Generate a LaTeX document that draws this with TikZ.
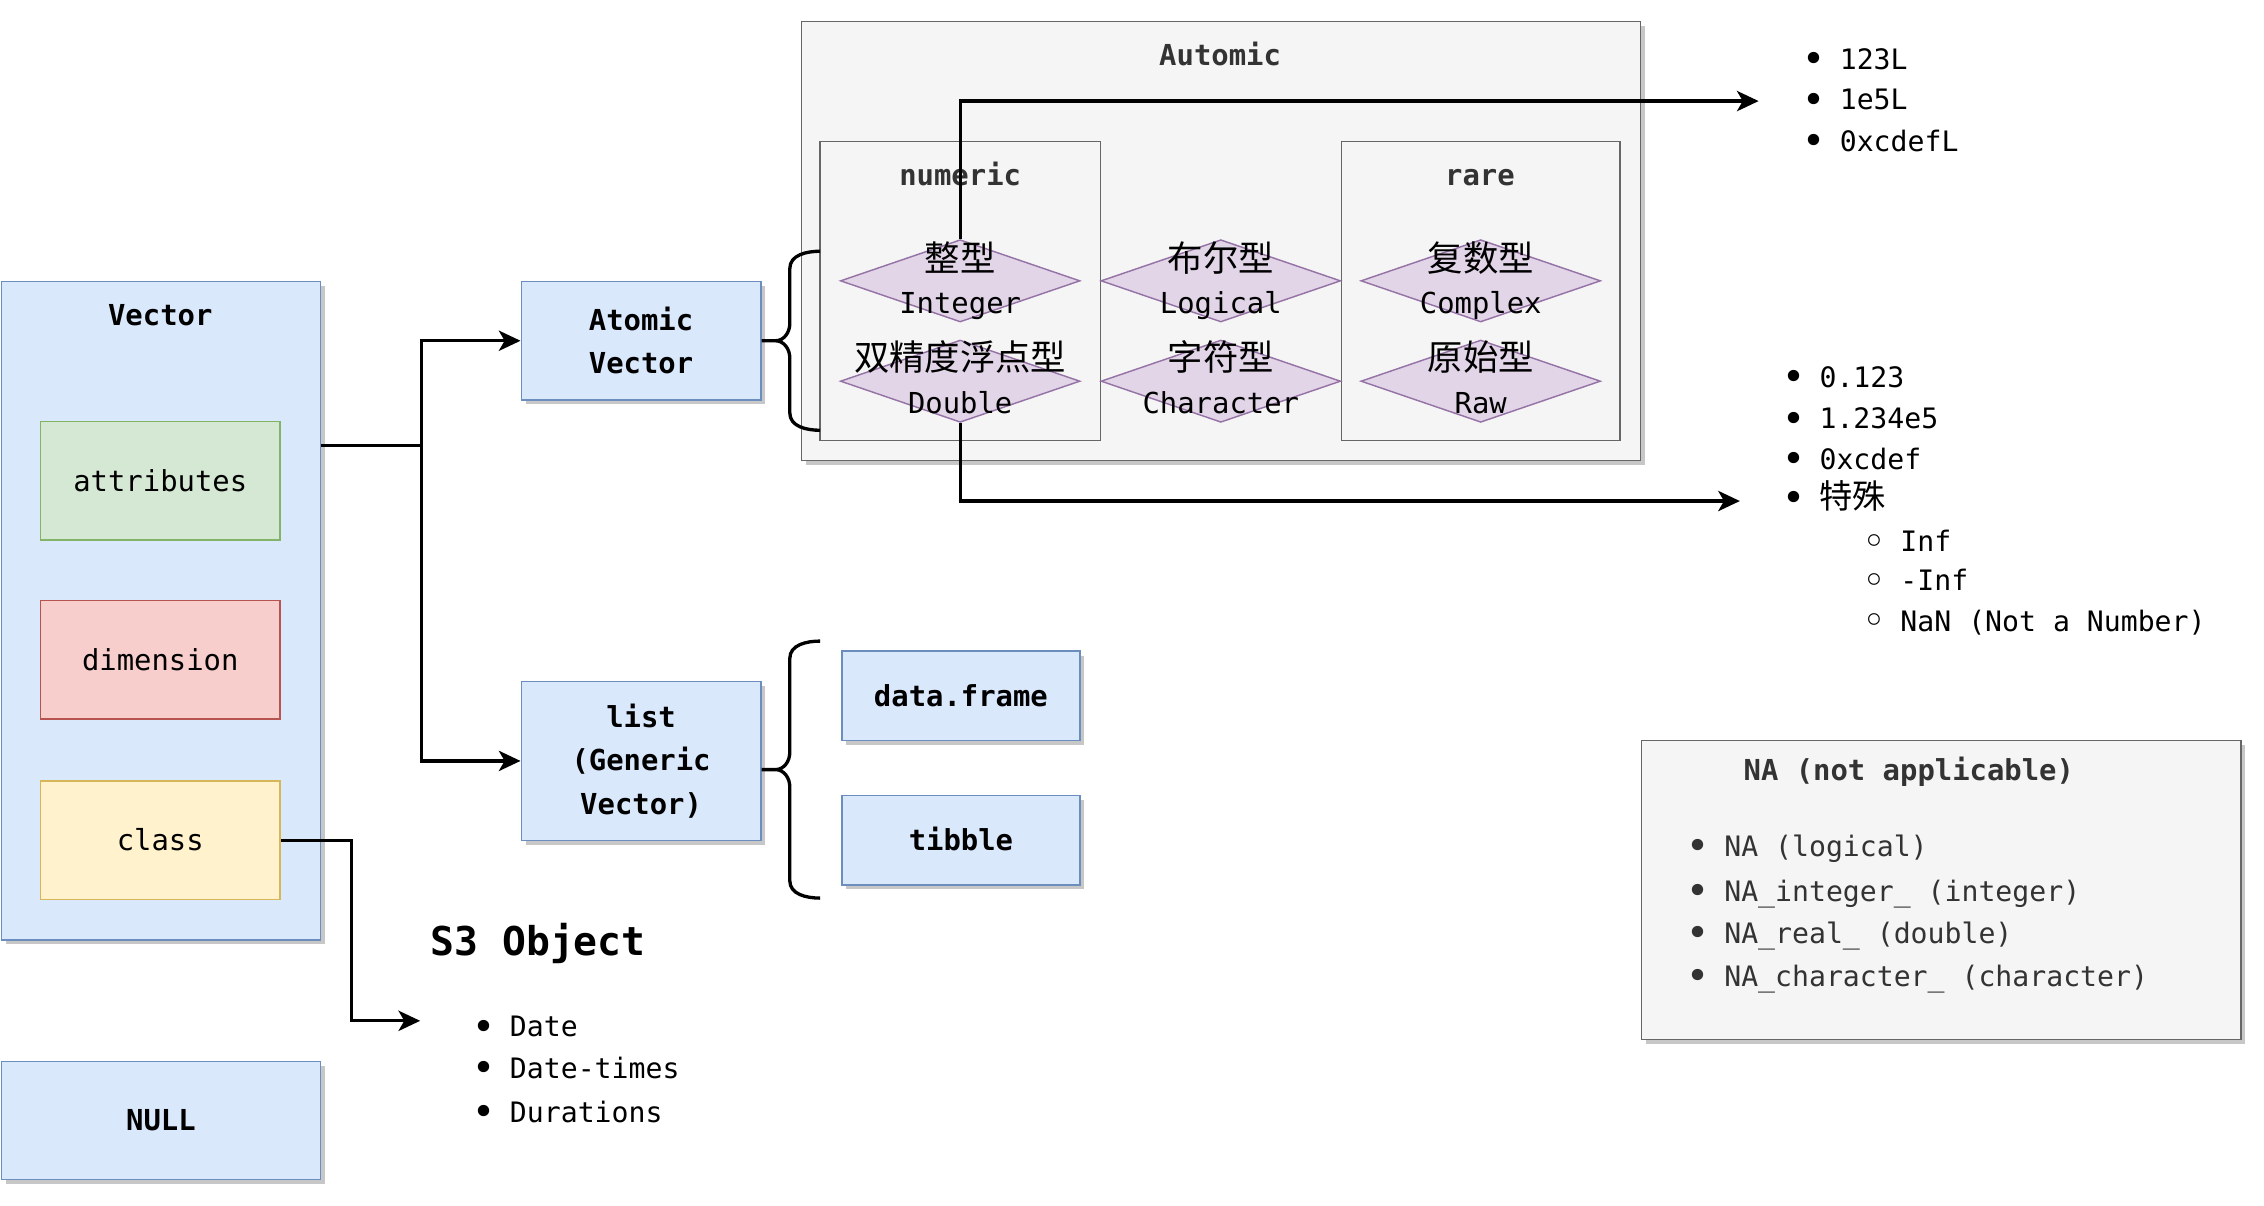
\documentclass[tikz,border=0pt]{standalone}
\usepackage{fontspec}
\setmainfont{DejaVu Sans Mono}
\setmonofont{DejaVu Sans Mono}
\newfontfamily\cjk{Noto Sans CJK SC}
\newfontfamily\djv{DejaVu Sans}
\usetikzlibrary{arrows.meta,shapes.geometric,shadows,calc}
\definecolor{blueF}{HTML}{DAE8FC}\definecolor{blueD}{HTML}{6C8EBF}
\definecolor{greenF}{HTML}{D5E8D4}\definecolor{greenD}{HTML}{82B366}
\definecolor{redF}{HTML}{F8CECC}\definecolor{redD}{HTML}{B85450}
\definecolor{yelF}{HTML}{FFF2CC}\definecolor{yelD}{HTML}{D6B656}
\definecolor{grayF}{HTML}{F5F5F5}\definecolor{grayD}{HTML}{666666}
\definecolor{purF}{HTML}{E1D5E7}\definecolor{purD}{HTML}{9673A6}
\definecolor{txtgray}{HTML}{333333}
\newcommand\bul{\makebox[26pt][l]{\raisebox{-2.2pt}{\djv\fontsize{27}{28}\selectfont •}}}
\newcommand\cbul{\makebox[26pt][l]{\raisebox{-2.6pt}{\djv\fontsize{28}{28}\selectfont ◦}}}
\newcommand\zhtxt[1]{{\cjk\fontsize{23}{28}\selectfont #1}}
\begin{document}
\begin{tikzpicture}[x=1pt,y=1pt,
  font=\ttfamily\fontsize{20}{30}\selectfont,
  shad/.style={drop shadow={shadow xshift=3pt,shadow yshift=-3pt,opacity=0.22,fill=black}},
  box/.style={draw,line width=1pt,inner sep=0,align=center},
  lbl/.style={inner sep=0,text height=14.5pt,text depth=0pt},
  bluebox/.style={box,fill=blueF,draw=blueD,shad},
  graybox/.style={box,fill=grayF,draw=grayD},
  dia/.style={diamond,draw=purD,fill=purF,line width=1pt,minimum width=166pt,minimum height=57pt,inner sep=0},
  zh/.style={inner sep=0,font=\cjk\fontsize{24.5}{30}\selectfont,text height=17.6pt,text depth=0pt},
  li/.style={inner sep=0,anchor=west,font=\ttfamily\fontsize{19.5}{28}\selectfont,text height=14.2pt,text depth=0pt},
  arr/.style={line width=2.3pt,-{Stealth[length=15pt,width=14pt,inset=4pt]}},
  brace/.style={line width=2.3pt}]
\useasboundingbox (0,0) rectangle (1568,-835);

% Vector container
\node[bluebox,minimum width=221pt,minimum height=456pt] (vec) at (111.5,-423) {};
\node[lbl] (vect) at (111,-218) {\bfseries Vector};
\node[box,lbl,fill=greenF,draw=greenD,minimum width=166pt,minimum height=82pt] (attr) at (111,-333) {attributes};
\node[box,lbl,fill=redF,draw=redD,minimum width=166pt,minimum height=82pt] (dim) at (111,-457) {dimension};
\node[box,lbl,fill=yelF,draw=yelD,minimum width=166pt,minimum height=82pt] (cls) at (111,-582) {class};
\node[bluebox,lbl,minimum width=221pt,minimum height=82pt] (null) at (111.5,-776) {\bfseries NULL};

% Atomic / list
\node[bluebox,minimum width=166pt,minimum height=82pt] (atom) at (444,-236) {\bfseries Atomic\\\bfseries Vector};
\node[bluebox,minimum width=166pt,minimum height=110pt] (list) at (444,-527) {\bfseries list\\\bfseries (Generic\\\bfseries Vector)};
\node[bluebox,lbl,minimum width=165pt,minimum height=62pt] (df) at (665.5,-482) {\bfseries data.frame};
\node[bluebox,lbl,minimum width=165pt,minimum height=62pt] (tb) at (665.5,-582) {\bfseries tibble};

% Automic container
\node[graybox,shad,minimum width=581pt,minimum height=304pt] (auto) at (845.5,-167) {};
\node[lbl,text=txtgray] (autot) at (845,-38) {\bfseries Automic};
\node[graybox,minimum width=194pt,minimum height=207pt] (num) at (665,-201.5) {};
\node[lbl,text=txtgray] (numt) at (665,-121) {\bfseries numeric};
\node[graybox,minimum width=193pt,minimum height=207pt] (rare) at (1025.5,-201.5) {};
\node[lbl,text=txtgray] (raret) at (1025,-121) {\bfseries rare};

% diamonds
\node[dia] (dint) at (665,-194.5) {};
\node[dia] (ddbl) at (665,-264) {};
\node[dia] (dlog) at (845.5,-194.5) {};
\node[dia] (dchr) at (845.5,-264) {};
\node[dia] (dcpx) at (1025.5,-194.5) {};
\node[dia] (draw) at (1025.5,-264) {};
\node[zh] (dintz) at (665,-179) {整型};
\node[lbl] (dintl) at (665,-210) {Integer};
\node[zh] (ddblz) at (665,-248) {双精度浮点型};
\node[lbl] (ddbll) at (665,-279) {Double};
\node[zh] (dlogz) at (845.5,-179) {布尔型};
\node[lbl] (dlogl) at (845.5,-210) {Logical};
\node[zh] (dchrz) at (845.5,-248) {字符型};
\node[lbl] (dchrl) at (845.5,-279) {Character};
\node[zh] (dcpxz) at (1025.5,-179) {复数型};
\node[lbl] (dcpxl) at (1025.5,-210) {Complex};
\node[zh] (drawz) at (1025.5,-248) {原始型};
\node[lbl] (drawl) at (1025.5,-279) {Raw};

% braces
\draw[brace] (atom.east) -- (537,-236)
  (568,-174) to[out=180,in=90] (547,-186) -- (547,-224) to[out=-90,in=0] (537,-236)
  (568,-298) to[out=180,in=-90] (547,-286) -- (547,-248) to[out=90,in=0] (537,-236);
\draw[brace] (list.east |- 0,-533) -- (537,-533)
  (568,-444) to[out=180,in=90] (547,-456) -- (547,-521) to[out=-90,in=0] (537,-533)
  (568,-622) to[out=180,in=-90] (547,-610) -- (547,-545) to[out=90,in=0] (537,-533);

% connectors
\draw[arr] ([yshift=-114pt]vec.north east) -- ++(69.5,0) |- (atom.west);
\draw[arr] ([yshift=-114pt]vec.north east) -- ++(69.5,0) |- (list.west);
\coordinate (s3in) at (291,-707);
\draw[arr] (cls.east) -- ++(49,0) |- (s3in);
\coordinate (l1in) at (1218,-70);
\coordinate (l2in) at (1205,-347);
\draw[arr] (dint.north) |- (l1in);
\draw[arr] (ddbl.south) |- (l2in);

% list 1
\node[li] (a1) at (1248,-41) {\bul 123L};
\node[li] (a2) at (1248,-69) {\bul 1e5L};
\node[li] (a3) at (1248,-98) {\bul 0xcdefL};
% list 2
\node[li] (b1) at (1234,-261) {\bul 0.123};
\node[li] (b2) at (1234,-290) {\bul 1.234e5};
\node[li] (b3) at (1234,-318) {\bul 0xcdef};
\node[li] (b4) at (1234,-345) {\bul \zhtxt{特殊}};
\node[li] (c1) at (1290,-375) {\cbul Inf};
\node[li] (c2) at (1290,-402) {\cbul -Inf};
\node[li] (c3) at (1290,-430) {\cbul NaN (Not a Number)};

% NA box
\node[graybox,shad,minimum width=415pt,minimum height=207pt] (na) at (1344.5,-616.5) {};
\node[lbl,text=txtgray] (nat) at (1322,-533) {\bfseries NA (not applicable)};
\node[li,text=txtgray] (n1) at (1168,-586) {\bul NA (logical)};
\node[li,text=txtgray] (n2) at (1168,-617) {\bul NA\_integer\_ (integer)};
\node[li,text=txtgray] (n3) at (1168,-646) {\bul NA\_real\_ (double)};
\node[li,text=txtgray] (n4) at (1168,-676) {\bul NA\_character\_ (character)};

% S3 object
\node[inner sep=0,anchor=west,font=\ttfamily\bfseries\fontsize{27.5}{33}\selectfont,text height=20pt,text depth=0pt] (s3) at (298,-652) {S3 Object};
\node[li] (s1) at (327,-711) {\bul Date};
\node[li] (s2) at (327,-740) {\bul Date-times};
\node[li] (s3b) at (327,-770) {\bul Durations};
\end{tikzpicture}
\end{document}
